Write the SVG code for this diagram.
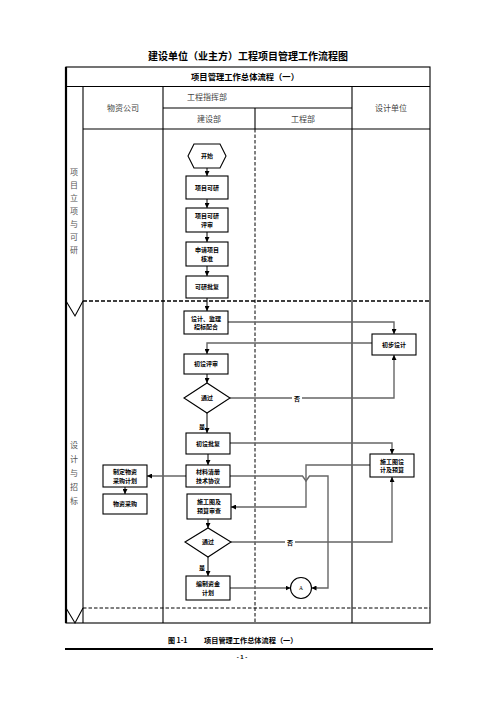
<svg xmlns="http://www.w3.org/2000/svg" width="496" height="702" viewBox="0 0 496 702">
<style>
.grid{stroke:#000;stroke-width:1.1;fill:none}
.thick{stroke:#000;stroke-width:2.2;fill:none}
.dash1{stroke:#000;stroke-width:1.5;stroke-dasharray:4 2;fill:none}
.dash2{stroke:#000;stroke-width:1;stroke-dasharray:3.5 2;fill:none}
.hdr{font-family:"Liberation Serif","Noto Sans CJK SC",serif;font-size:8px;fill:#444;text-anchor:middle}
.lane{font-family:"Liberation Serif","Noto Sans CJK SC",serif;font-size:8px;fill:#555;text-anchor:middle}
.box{fill:#fff;stroke:#000;stroke-width:1.1}
.nt{font-family:"Noto Sans CJK SC",sans-serif;font-size:6px;font-weight:bold;fill:#000;text-anchor:middle}
.lbl{font-family:"Noto Sans CJK SC",sans-serif;font-size:6px;font-weight:bold;fill:#000;text-anchor:middle}
.c{stroke:#000;stroke-width:1;fill:none}
.g{stroke:#666;stroke-width:1.4;fill:none}
</style>
<defs>
<marker id="ar" viewBox="0 0 10 10" refX="10" refY="5" markerWidth="5" markerHeight="5" orient="auto" markerUnits="userSpaceOnUse">
<path d="M0,0 L10,5 L0,10 z" fill="#000"/>
</marker>
</defs>
<rect width="496" height="702" fill="#fff"/>
<text x="248" y="60" font-family="Noto Sans CJK SC,sans-serif" font-size="10" font-weight="bold" text-anchor="middle">建设单位（业主方）工程项目管理工作流程图</text>

<g id="table">
<rect x="66" y="67" width="364" height="556" class="grid" stroke-width="1.3"/>
<line x1="66" y1="67" x2="66" y2="623" class="thick"/>
<line x1="66" y1="86.5" x2="430" y2="86.5" class="grid"/>
<line x1="163" y1="108" x2="352" y2="108" class="grid"/>
<line x1="83" y1="129" x2="430" y2="129" class="grid"/>
<line x1="83" y1="86.5" x2="83" y2="623" class="grid" stroke-width="1.5"/>
<line x1="163" y1="86.5" x2="163" y2="623" class="grid"/>
<line x1="352" y1="86.5" x2="352" y2="623" class="grid"/>
<line x1="255" y1="108" x2="255" y2="129" class="grid"/>
<line x1="255" y1="129" x2="255" y2="623" class="dash2"/>
<line x1="83" y1="301" x2="430" y2="301" class="dash1"/>
<line x1="83" y1="608" x2="430" y2="608" class="dash2"/>
<polyline points="66,301 75,316 83,301" class="grid"/>
<polyline points="66,608 75,623 83,608" class="grid"/>
<text x="245" y="79.5" font-family="Noto Sans CJK SC,sans-serif" font-size="8.3" font-weight="bold" text-anchor="middle">项目管理工作总体流程（一）</text>
<text x="123" y="111" class="hdr">物资公司</text>
<text x="207" y="100" class="hdr">工程指挥部</text>
<text x="209" y="121.5" class="hdr">建设部</text>
<text x="303" y="121.5" class="hdr">工程部</text>
<text x="391" y="111" class="hdr">设计单位</text>
<g class="lane">
<text x="74" y="175">项</text><text x="74" y="188">目</text><text x="74" y="201">立</text><text x="74" y="214">项</text><text x="74" y="227">与</text><text x="74" y="240">可</text><text x="74" y="253">研</text>
<text x="74" y="448">设</text><text x="74" y="462">计</text><text x="74" y="476">与</text><text x="74" y="490">招</text><text x="74" y="504">标</text>
</g>
</g>

<g id="connectors">
<line x1="207" y1="168" x2="207" y2="176" class="c" marker-end="url(#ar)"/>
<line x1="207" y1="199" x2="207" y2="208" class="c" marker-end="url(#ar)"/>
<line x1="207" y1="232" x2="207" y2="242" class="c" marker-end="url(#ar)"/>
<line x1="207" y1="266" x2="207" y2="276" class="c" marker-end="url(#ar)"/>
<line x1="207" y1="298" x2="207" y2="311" class="c" marker-end="url(#ar)"/>
<polyline points="228,322 394,322 394,334" class="g" marker-end="url(#ar)"/>
<polyline points="372,343 207,343 207,354" class="g" marker-end="url(#ar)"/>
<line x1="207" y1="374" x2="207" y2="383" class="c" marker-end="url(#ar)"/>
<polyline points="230,398 394,398 394,355" class="g" marker-end="url(#ar)"/>
<line x1="207" y1="413" x2="207" y2="433" class="c" marker-end="url(#ar)"/>
<polyline points="230,443 392,443 392,454" class="g" marker-end="url(#ar)"/>
<line x1="208" y1="454" x2="208" y2="465" class="c" marker-end="url(#ar)"/>
<line x1="186" y1="476" x2="147" y2="476" class="g" marker-end="url(#ar)"/>
<line x1="125" y1="487" x2="125" y2="494" class="c" marker-end="url(#ar)"/>
<polyline points="370,465 306,465 306,507 231,507" class="g" marker-end="url(#ar)"/>
<polyline points="230,476 302.5,476 306,481 309.5,476 328,476 328,588 311.5,588" class="g" marker-end="url(#ar)"/>
<line x1="208" y1="519" x2="208" y2="528" class="c" marker-end="url(#ar)"/>
<polyline points="231,542 392,542 392,477" class="g" marker-end="url(#ar)"/>
<line x1="208" y1="557" x2="208" y2="576" class="c" marker-end="url(#ar)"/>
<line x1="230" y1="588" x2="290.5" y2="588" class="g" marker-end="url(#ar)"/>
<rect x="292" y="394" width="10" height="8" fill="#fff"/>
<text x="297" y="401" class="lbl">否</text>
<rect x="285" y="538" width="10" height="8" fill="#fff"/>
<text x="290" y="545" class="lbl">否</text>
<text x="202" y="429" class="lbl">是</text>
<text x="202" y="570" class="lbl">是</text>
</g>

<g id="n-start"><polygon points="188,156 194,144 220,144 226,156 220,168 194,168" class="box"/><text x="207" y="158" class="nt">开始</text></g>
<g id="n-kyan"><rect x="186" y="176" width="42" height="23" class="box"/><text x="207" y="189.5" class="nt">项目可研</text></g>
<g id="n-kyps"><rect x="186" y="208" width="42" height="24" class="box"/><text x="207" y="218" class="nt">项目可研</text><text x="207" y="226.5" class="nt">评审</text></g>
<g id="n-sqhz"><rect x="186" y="242" width="42" height="24" class="box"/><text x="207" y="252" class="nt">申请项目</text><text x="207" y="260.5" class="nt">核准</text></g>
<g id="n-kypf"><rect x="186" y="276" width="42" height="22" class="box"/><text x="207" y="289" class="nt">可研批复</text></g>
<g id="n-sjjl"><rect x="184" y="311" width="44" height="23" class="box"/><text x="206" y="320.5" class="nt">设计、监理</text><text x="206" y="329" class="nt">招标配合</text></g>
<g id="n-cbsj"><rect x="372" y="334" width="44" height="21" class="box"/><text x="394" y="346.5" class="nt">初步设计</text></g>
<g id="n-cshps"><rect x="184" y="354" width="44" height="20" class="box"/><text x="206" y="366" class="nt">初设评审</text></g>
<g id="n-tg1"><polygon points="184,398 207,383 230,398 207,413" class="box"/><text x="207" y="400" class="nt">通过</text></g>
<g id="n-cspf"><rect x="186" y="433" width="44" height="21" class="box"/><text x="208" y="445.5" class="nt">初设批复</text></g>
<g id="n-sgtsj"><rect x="370" y="454" width="44" height="23" class="box"/><text x="392" y="463.5" class="nt">施工图设</text><text x="392" y="472" class="nt">计及预算</text></g>
<g id="n-zdwz"><rect x="103" y="465" width="44" height="22" class="box"/><text x="125" y="474" class="nt">制定物资</text><text x="125" y="482.5" class="nt">采购计划</text></g>
<g id="n-clqc"><rect x="186" y="465" width="44" height="22" class="box"/><text x="208" y="474" class="nt">材料清册</text><text x="208" y="482.5" class="nt">技术协议</text></g>
<g id="n-wzcg"><rect x="103" y="494" width="44" height="20" class="box"/><text x="125" y="506" class="nt">物资采购</text></g>
<g id="n-sgtsc"><rect x="187" y="494" width="44" height="25" class="box"/><text x="209" y="504" class="nt">施工图及</text><text x="209" y="513" class="nt">预算审查</text></g>
<g id="n-tg2"><polygon points="185,542 208,528 231,542 208,557" class="box"/><text x="208" y="544" class="nt">通过</text></g>
<g id="n-bzzj"><rect x="186" y="576" width="44" height="24" class="box"/><text x="208" y="586" class="nt">编制资金</text><text x="208" y="594.5" class="nt">计划</text></g>
<g id="n-a"><circle cx="301" cy="588" r="10.5" class="box"/><text x="301" y="590" font-family="Liberation Serif,serif" font-size="5.5" text-anchor="middle">A</text></g>

<g id="caption">
<text x="168" y="643" font-family="Noto Sans CJK SC,sans-serif" font-size="7" font-weight="bold">图 1-1</text>
<text x="204" y="643" font-family="Noto Sans CJK SC,sans-serif" font-size="7.2" font-weight="bold">项目管理工作总体流程（一）</text>
<line x1="65" y1="649" x2="433" y2="649" stroke="#000" stroke-width="2"/>
<text x="242" y="659" font-family="Liberation Sans,sans-serif" font-size="6" font-weight="bold" text-anchor="middle">- 1 -</text>
</g>
</svg>
